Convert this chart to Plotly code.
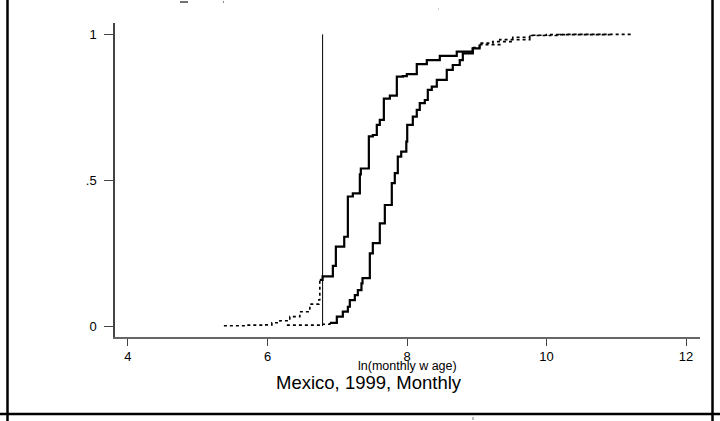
import plotly.graph_objects as go

# ---- data ----
# Empirical CDF, left (lower) curve
cdf_a_x = [5.375, 5.705, 5.963, 6.063, 6.178, 6.32, 6.464, 6.607, 6.736, 6.75,
           6.79, 6.937, 6.98, 7.10, 7.152, 7.223, 7.324, 7.338, 7.453,
           7.51, 7.567, 7.61, 7.668, 7.754, 7.854, 7.94, 7.997, 8.14, 8.284,
           8.47, 8.713, 8.943, 9.043, 9.23, 9.516, 9.76, 10.0, 10.29, 11.235]
cdf_a_y = [0.001, 0.003, 0.004, 0.011, 0.018, 0.032, 0.049, 0.075, 0.09, 0.158,
           0.17, 0.206, 0.272, 0.306, 0.444, 0.455, 0.52, 0.54, 0.65,
           0.655, 0.69, 0.707, 0.78, 0.79, 0.855, 0.857, 0.864, 0.898, 0.912,
           0.926, 0.941, 0.955, 0.97, 0.975, 0.99, 0.997, 0.999, 1.0, 1.0]

# Empirical CDF, right (higher) curve
cdf_b_x = [6.278, 6.78, 6.894, 6.994, 7.08, 7.152, 7.18, 7.252, 7.295, 7.347,
           7.362, 7.467, 7.51, 7.61, 7.682, 7.782, 7.825, 7.868, 7.917, 7.99,
           8.003, 8.083, 8.14, 8.183, 8.255, 8.298, 8.355, 8.427, 8.57, 8.656,
           8.756, 8.8, 8.943, 9.04, 9.33, 9.76, 10.19, 10.9]
cdf_b_y = [0.003, 0.006, 0.011, 0.032, 0.049, 0.066, 0.089, 0.106, 0.123, 0.146,
           0.164, 0.249, 0.284, 0.352, 0.415, 0.49, 0.524, 0.581, 0.598, 0.632,
           0.69, 0.718, 0.741, 0.764, 0.775, 0.81, 0.821, 0.844, 0.878, 0.895,
           0.912, 0.935, 0.952, 0.965, 0.982, 0.996, 0.999, 1.0]

# Minimum-wage reference line
min_wage_x = [6.79, 6.79]
min_wage_y = [0, 1]

x_tick_vals = [4, 6, 8, 10, 12]
x_tick_text = ["4", "6", "8", "10", "12"]
y_tick_vals = [0, 0.5, 1]
y_tick_text = ["0", ".5", "1"]

x_label = "ln(monthly w age)"
title_text = "Mexico, 1999, Monthly"

# ---- style / layout constants ----
FONT = "Liberation Sans, Arial, sans-serif"
A_LEFT_END, A_RIGHT_START = 9, 31   # indices where tails switch to dotted
B_LEFT_END, B_RIGHT_START = 2, 33

fig = go.Figure()

def step(xs, ys, dotted):
    fig.add_trace(go.Scatter(
        x=xs, y=ys, mode="lines", line_shape="hv",
        line=dict(color="black", width=1.6 if dotted else 2.2,
                  dash="dot" if dotted else "solid"),
        hoverinfo="skip", showlegend=False))

for xs, ys, le, rs in [(cdf_a_x, cdf_a_y, A_LEFT_END, A_RIGHT_START),
                       (cdf_b_x, cdf_b_y, B_LEFT_END, B_RIGHT_START)]:
    step(xs[:le + 1], ys[:le + 1], True)
    step(xs[le:rs + 1], ys[le:rs + 1], False)
    step(xs[rs:], ys[rs:], True)

fig.add_trace(go.Scatter(x=min_wage_x, y=min_wage_y, mode="lines",
                         line=dict(color="black", width=1),
                         hoverinfo="skip", showlegend=False))

L, R, T, B = 115, 20, 23, 84
W, H = 720, 421
pw, ph = W - L - R, H - T - B

def px(xp):
    return (xp - L) / pw

def py(yp):
    return (H - B - yp) / ph

frame = dict(type="line", xref="paper", yref="paper",
             line=dict(color="black", width=2.5))
shapes = [
    dict(frame, x0=px(7.5), x1=px(7.5), y0=py(0), y1=py(421)),
    dict(frame, x0=px(712.5), x1=px(712.5), y0=py(0), y1=py(421)),
    dict(frame, x0=px(0), x1=px(720), y0=py(414), y1=py(414)),
    dict(type="line", xref="paper", yref="paper", x0=px(180), x1=px(188),
         y0=py(2), y1=py(2), line=dict(color="#444", width=1.5)),
    dict(type="line", xref="paper", yref="paper", x0=px(223), x1=px(224),
         y0=py(2), y1=py(2), line=dict(color="#666", width=1.5)),
    dict(type="line", xref="paper", yref="paper", x0=px(438), x1=px(439),
         y0=py(9), y1=py(9), line=dict(color="#999", width=1)),
    dict(type="line", xref="paper", yref="paper", x0=px(473), x1=px(473),
         y0=py(417), y1=py(420), line=dict(color="#777", width=1)),
]

fig.update_layout(
    width=W, height=H,
    margin=dict(l=L, r=R, t=T, b=B, pad=0),
    paper_bgcolor="white", plot_bgcolor="white",
    font=dict(family=FONT, color="black", size=11),
    shapes=shapes,
    annotations=[
        dict(text=x_label, xref="paper", yref="paper", x=0.5, y=py(366),
             showarrow=False, font=dict(size=12.5, family=FONT),
             xanchor="center", yanchor="middle"),
        dict(text=title_text, xref="paper", yref="paper", x=px(369), y=py(382),
             showarrow=False, font=dict(size=18.5, family=FONT),
             xanchor="center", yanchor="middle"),
    ],
)
fig.update_xaxes(range=[3.814, 12.2], tickvals=x_tick_vals, ticktext=x_tick_text,
                 showgrid=False, zeroline=False, showline=True, linecolor="#666",
                 linewidth=1.5, ticks="outside", ticklen=7, tickcolor="#444",
                 tickwidth=1, tickfont=dict(size=13))
fig.update_yaxes(range=[-0.0377, 1.039], tickvals=y_tick_vals, ticktext=y_tick_text,
                 showgrid=False, zeroline=False, showline=True, linecolor="#444",
                 linewidth=1.5, ticks="outside", ticklen=9, tickcolor="#444",
                 tickwidth=1, tickfont=dict(size=13), ticklabelstandoff=5)

fig.write_html("out.html",
               config={"displayModeBar": False},
               post_script="document.body.style.margin='0px';"
                           "document.body.style.overflow='hidden';")
